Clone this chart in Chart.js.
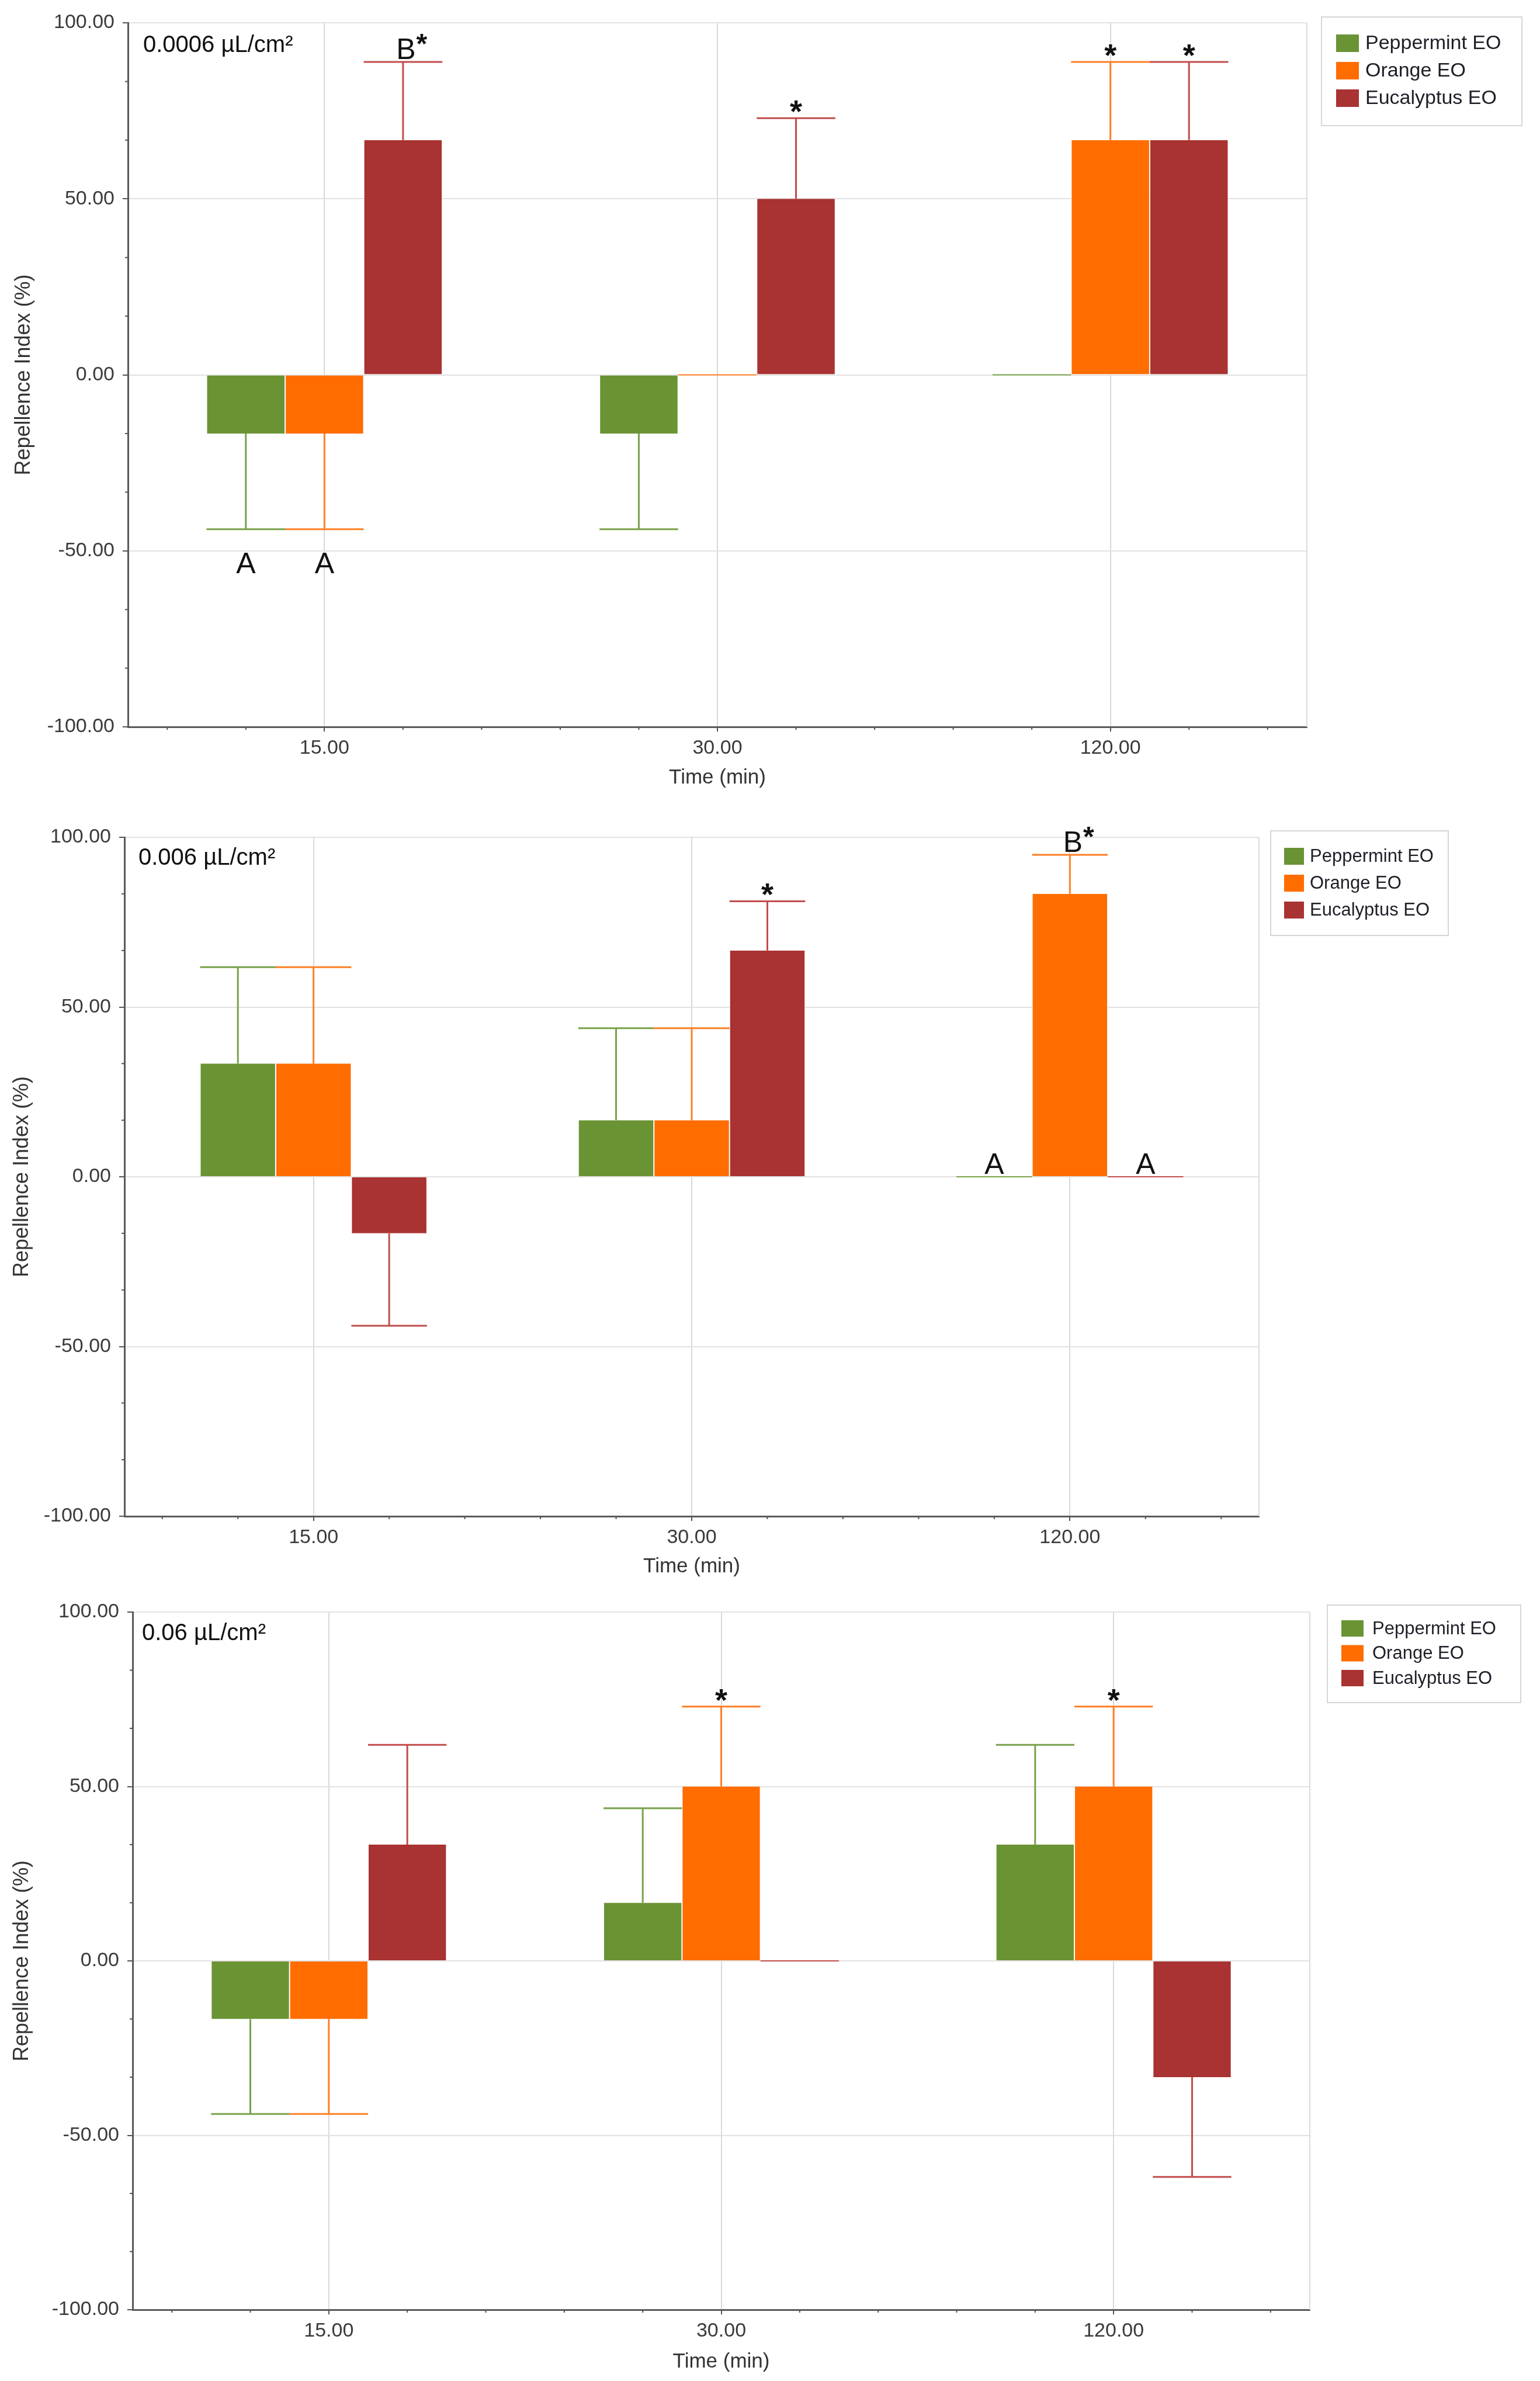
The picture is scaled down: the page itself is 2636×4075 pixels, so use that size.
<!DOCTYPE html>
<html>
<head>
<meta charset="utf-8">
<script src="https://cdn.jsdelivr.net/npm/chart.js@4.4.1/dist/chart.umd.min.js"></script>
<style>
  html, body { margin: 0; padding: 0; background: #fff; }
  body { width: 2636px; height: 4075px; position: relative; overflow: hidden; }
  .panel { position: absolute; left: 0; width: 2636px; }
  #panel1 { top: 0; height: 1370px; }
  #panel2 { top: 1370px; height: 1350px; }
  #panel3 { top: 2700px; height: 1375px; }
</style>
</head>
<body>
<div class="panel" id="panel1"><canvas id="chart1"></canvas></div>
<div class="panel" id="panel2"><canvas id="chart2"></canvas></div>
<div class="panel" id="panel3"><canvas id="chart3"></canvas></div>
<script>
const categories = ['15.00', '30.00', '120.00'];
const seriesNames = ['Peppermint EO', 'Orange EO', 'Eucalyptus EO'];
const yTickValues = [-100, -50, 0, 50, 100];
const doseLabels = ['0.0006 µL/cm²', '0.006 µL/cm²', '0.06 µL/cm²'];

// 0.0006 µL/cm2
const lowPeppermint = [-16.67, -16.67, 0];
const lowOrange = [-16.67, 0, 66.67];
const lowEucalyptus = [66.67, 50, 66.67];
const lowPeppermintErr = [27.2, 27.2, 0];
const lowOrangeErr = [27.2, 0, 22.2];
const lowEucalyptusErr = [22.2, 22.9, 22.2];
const lowPeppermintMarks = ['A', '', ''];
const lowOrangeMarks = ['A', '', '*'];
const lowEucalyptusMarks = ['B*', '*', '*'];

// 0.006 µL/cm2
const midPeppermint = [33.33, 16.67, 0];
const midOrange = [33.33, 16.67, 83.33];
const midEucalyptus = [-16.67, 66.67, 0];
const midPeppermintErr = [28.4, 27.1, 0];
const midOrangeErr = [28.4, 27.1, 11.5];
const midEucalyptusErr = [27.2, 14.5, 0];
const midPeppermintMarks = ['', '', 'A'];
const midOrangeMarks = ['', '', 'B*'];
const midEucalyptusMarks = ['', '*', 'A'];

// 0.06 µL/cm2
const highPeppermint = [-16.67, 16.67, 33.33];
const highOrange = [-16.67, 50, 50];
const highEucalyptus = [33.33, 0, -33.33];
const highPeppermintErr = [27.2, 27.1, 28.6];
const highOrangeErr = [27.2, 22.9, 22.9];
const highEucalyptusErr = [28.6, 0, 28.6];
const highPeppermintMarks = ['', '', ''];
const highOrangeMarks = ['', '*', '*'];
const highEucalyptusMarks = ['', '', ''];

const barColors = ['#6a9334', '#ff6d00', '#a93232'];
const errorColors = ['#78a24a', '#ff7f25', '#c24c4c'];
const FONT = '"Liberation Sans", Arial, sans-serif';

const panels = [
    {
        canvas: 'chart1', dose: doseLabels[0],
        values: [lowPeppermint, lowOrange, lowEucalyptus],
        errors: [lowPeppermintErr, lowOrangeErr, lowEucalyptusErr],
        marks: [lowPeppermintMarks, lowOrangeMarks, lowEucalyptusMarks],
        left: 219, padRight: 399, top: 39, xAxisH: 126, xTitlePad: 17.6, yTitlePad: 19,
        doseX: 26, doseY: 50,
        legend: { dx: 25, dy: -10, w: 343, h: 186, swX: 25, swW: 39, swH: 30, rowTop: 30, pitch: 47, textX: 75, size: 34 }
    },
    {
        canvas: 'chart2', dose: doseLabels[1],
        values: [midPeppermint, midOrange, midEucalyptus],
        errors: [midPeppermintErr, midOrangeErr, midEucalyptusErr],
        marks: [midPeppermintMarks, midOrangeMarks, midEucalyptusMarks],
        left: 213, padRight: 481, top: 63, xAxisH: 125, xTitlePad: 17.6, yTitlePad: 16,
        doseX: 24, doseY: 47,
        legend: { dx: 20, dy: -11, w: 304, h: 179, swX: 23, swW: 34, swH: 29, rowTop: 29, pitch: 46, textX: 67, size: 31 }
    },
    {
        canvas: 'chart3', dose: doseLabels[2],
        values: [highPeppermint, highOrange, highEucalyptus],
        errors: [highPeppermintErr, highOrangeErr, highEucalyptusErr],
        marks: [highPeppermintMarks, highOrangeMarks, highEucalyptusMarks],
        left: 227, padRight: 394, top: 59, xAxisH: 122, xTitlePad: 11.6, yTitlePad: 16,
        doseX: 16, doseY: 48,
        legend: { dx: 30, dy: -12, w: 331, h: 167, swX: 24, swW: 38, swH: 28, rowTop: 26, pitch: 42.5, textX: 77, size: 31 }
    }
];

// draws a significance letter / asterisk next to an error bar end
function drawMark(ctx, text, x, capY, above) {
    const letter = text.replace('*', '');
    const star = text.indexOf('*') >= 0;
    ctx.save();
    ctx.fillStyle = '#111';
    ctx.textBaseline = 'alphabetic';
    if (letter) {
        ctx.font = `50px ${FONT}`;
        const m = ctx.measureText(letter);
        const baseY = above ? capY - 5 - Math.max(m.actualBoundingBoxDescent, 0)
                            : capY + 40 + m.actualBoundingBoxAscent;
        const lx = x - m.width / 2 + (star ? 5 : 0);
        ctx.textAlign = 'left';
        ctx.fillText(letter, lx, baseY);
        if (star) {
            ctx.font = `bold 48px ${FONT}`;
            const s = ctx.measureText('*');
            const centerY = baseY - m.actualBoundingBoxAscent + 1;
            const starBase = centerY + (s.actualBoundingBoxAscent - s.actualBoundingBoxDescent) / 2;
            ctx.fillText('*', lx + m.width + 1, starBase);
        }
    } else if (star) {
        ctx.font = `bold 54px ${FONT}`;
        const s = ctx.measureText('*');
        ctx.textAlign = 'center';
        const bottom = capY - 9;
        ctx.fillText('*', x, bottom - s.actualBoundingBoxDescent);
    }
    ctx.restore();
}

const panelDecor = {
    id: 'panelDecor',
    afterDatasetsDraw(chart) {
        const { ctx, scales: { y } } = chart;
        const zeroY = y.getPixelForValue(0);
        chart.data.datasets.forEach((ds, di) => {
            const meta = chart.getDatasetMeta(di);
            meta.data.forEach((bar, i) => {
                const v = ds.data[i];
                const e = ds.errors[i];
                const half = bar.width / 2;
                let capY = zeroY;
                ctx.save();
                ctx.strokeStyle = errorColors[di];
                ctx.lineWidth = 3;
                if (v === 0) {
                    ctx.lineWidth = 2;
                    ctx.beginPath();
                    ctx.moveTo(bar.x - half, zeroY);
                    ctx.lineTo(bar.x + half, zeroY);
                    ctx.stroke();
                } else {
                    capY = y.getPixelForValue(v + Math.sign(v) * e);
                    ctx.beginPath();
                    ctx.moveTo(bar.x, bar.y);
                    ctx.lineTo(bar.x, capY);
                    ctx.moveTo(bar.x - half, capY);
                    ctx.lineTo(bar.x + half, capY);
                    ctx.stroke();
                }
                ctx.restore();
                const mark = ds.marks[i];
                if (mark) drawMark(ctx, mark, bar.x, capY, v >= 0);
            });
        });
    },
    afterDraw(chart, args, opts) {
        const { ctx, chartArea: area, scales: { x, y } } = chart;
        const p = opts.panel;
        ctx.save();

        // right frame line of the plot
        ctx.strokeStyle = '#dcdcdc';
        ctx.lineWidth = 2;
        ctx.beginPath();
        ctx.moveTo(area.right, area.top);
        ctx.lineTo(area.right, area.bottom);
        ctx.stroke();

        // minor ticks
        ctx.strokeStyle = '#555';
        ctx.lineWidth = 2;
        ctx.beginPath();
        for (let k = 1; k < 12; k++) {
            if (k % 3 === 0) continue;
            const py = y.getPixelForValue(-100 + k * 50 / 3);
            ctx.moveTo(area.left - 5, py);
            ctx.lineTo(area.left, py);
        }
        const catW = (x.right - x.left) / categories.length;
        for (let j = -2; j < categories.length * 5; j++) {
            if (j % 5 === 0) continue;
            const px = x.left + catW / 2 + j * catW / 5;
            if (px <= x.left + 2 || px >= x.right - 2) continue;
            ctx.moveTo(px, area.bottom);
            ctx.lineTo(px, area.bottom + 5);
        }
        ctx.stroke();

        // dose label
        ctx.fillStyle = '#111';
        ctx.font = `40px ${FONT}`;
        ctx.textAlign = 'left';
        ctx.textBaseline = 'alphabetic';
        ctx.fillText(p.dose, area.left + p.doseX, area.top + p.doseY);

        // legend box
        const L = p.legend;
        const bx = area.right + L.dx, by = area.top + L.dy;
        ctx.fillStyle = '#fff';
        ctx.fillRect(bx, by, L.w, L.h);
        ctx.strokeStyle = '#d6d6d6';
        ctx.lineWidth = 2;
        ctx.strokeRect(bx, by, L.w, L.h);
        chart.data.datasets.forEach((ds, k) => {
            const sy = by + L.rowTop + k * L.pitch;
            ctx.fillStyle = barColors[k];
            ctx.fillRect(bx + L.swX, sy, L.swW, L.swH);
            ctx.fillStyle = '#1e1e28';
            ctx.font = `${L.size}px ${FONT}`;
            ctx.textBaseline = 'middle';
            ctx.fillText(ds.label, bx + L.textX, sy + L.swH / 2 + 1);
        });
        ctx.restore();
    }
};

panels.forEach(p => {
    const ctx = document.getElementById(p.canvas).getContext('2d');
    new Chart(ctx, {
        type: 'bar',
        data: {
            labels: categories,
            datasets: seriesNames.map((name, k) => ({
                label: name,
                data: p.values[k],
                errors: p.errors[k],
                marks: p.marks[k],
                backgroundColor: barColors[k],
                borderColor: '#ffffff',
                borderWidth: { left: 1, right: 1, top: 0, bottom: 0 },
                borderSkipped: false,
                categoryPercentage: 0.6,
                barPercentage: 1
            }))
        },
        options: {
            responsive: true,
            maintainAspectRatio: false,
            animation: false,
            layout: { padding: { top: p.top, right: p.padRight, left: 0, bottom: 0 } },
            plugins: {
                legend: { display: false },
                tooltip: { enabled: false },
                panelDecor: { panel: p }
            },
            scales: {
                x: {
                    grid: { offset: false, color: '#d9d9d9', lineWidth: 2, tickLength: 8, tickColor: '#555' },
                    border: { color: '#5a5a5a', width: 3 },
                    ticks: { color: '#3a3a3a', font: { family: FONT, size: 34 }, padding: 8, maxRotation: 0 },
                    title: {
                        display: true, text: 'Time (min)', color: '#333',
                        font: { family: FONT, size: 35 }, padding: { top: 0, bottom: p.xTitlePad }
                    },
                    afterFit: s => { s.height = p.xAxisH; }
                },
                y: {
                    min: -100,
                    max: 100,
                    afterBuildTicks: s => { s.ticks = yTickValues.map(v => ({ value: v })); },
                    grid: { color: '#e2e2e2', lineWidth: 2, tickLength: 9, tickColor: '#555' },
                    border: { color: '#5a5a5a', width: 3 },
                    ticks: {
                        color: '#3a3a3a', font: { family: FONT, size: 34 }, padding: 14,
                        callback: v => Number(v).toFixed(2)
                    },
                    title: {
                        display: true, text: 'Repellence Index (%)', color: '#333',
                        font: { family: FONT, size: 36 }, padding: { top: p.yTitlePad, bottom: 0 }
                    },
                    afterFit: s => { s.width = p.left; }
                }
            }
        },
        plugins: [panelDecor]
    });
});
</script>
</body>
</html>
